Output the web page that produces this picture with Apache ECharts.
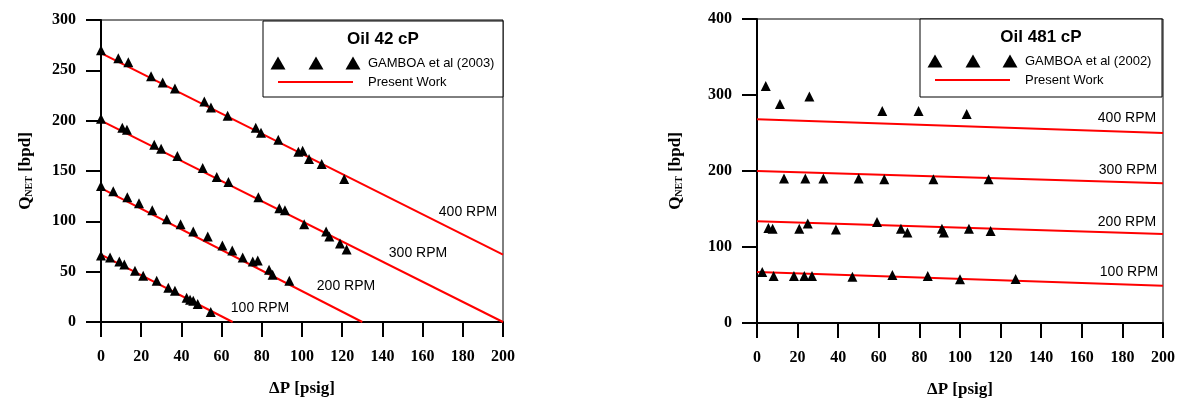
<!DOCTYPE html>
<html>
<head>
<meta charset="utf-8">
<title>Q_NET vs dP</title>
<script src="https://cdn.jsdelivr.net/npm/echarts@6/dist/echarts.min.js"></script>
<style>
  html, body { margin: 0; padding: 0; background: #fff; }
  #chart { width: 1179px; height: 406px; }
</style>
</head>
<body>
<div id="chart"></div>
<script>
// ---- data ----
// Oil 42 cP, GAMBOA et al (2003)
const gamboa42_400 = [[0,270],[8.6,262],[13.6,258],[24.9,244],[30.7,238],[36.8,232],[51.4,219],[54.7,213],[63,205],[77,193],[79.6,188],[88.2,181],[98.2,169],[100.3,170],[103.5,162],[109.8,157],[121,142]];
const gamboa42_300 = [[0,202],[10.6,193],[12.9,191],[26.5,176],[29.9,172],[38,165],[50.6,153],[57.6,144],[63.4,139],[78.3,124],[88.7,113],[91.5,111],[101.1,97],[112,90],[113.6,85],[118.9,78],[122.2,72]];
const gamboa42_200 = [[0,135],[6.1,130],[13.1,124],[18.9,118],[25.5,111],[32.7,102],[39.6,97],[45.9,90],[53.1,85],[60.4,76],[65.3,71],[70.5,64],[75.5,60],[78,61],[83.6,52],[85.4,47],[93.7,41]];
const gamboa42_100 = [[0,66],[4.5,64],[9.1,60],[11.6,57],[16.9,51],[21,46],[27.7,41],[33.5,34],[36.8,31],[42.6,24],[44.3,22],[45.9,21],[48.1,18],[54.6,10]];
// Oil 42 cP, present work
const model42_400 = [[0,267],[200,67]];
const model42_300 = [[0,200],[200,0]];
const model42_200 = [[0,133],[130,0]];
const model42_100 = [[0,67],[65.5,0]];

// Oil 481 cP, GAMBOA et al (2002)
const gamboa481_400 = [[4.3,312],[11.3,288],[25.8,298],[61.7,279],[79.6,279],[103.3,275]];
const gamboa481_300 = [[13.3,190],[23.8,190],[32.7,190],[50.1,190],[62.7,189],[86.9,189],[114.1,189]];
const gamboa481_200 = [[5.6,125],[7.7,124],[20.8,124],[25,131],[38.9,123],[59.1,133],[70.9,124],[74.1,119],[91.1,124],[92.1,119],[104.4,124],[115.1,121]];
const gamboa481_100 = [[2.6,67],[8.2,62],[18.2,62],[23.3,62],[27.1,62],[47,61],[66.7,63],[84.1,62],[100,57.5],[127.4,58]];
// Oil 481 cP, present work
const model481_400 = [[0,268],[200,250]];
const model481_300 = [[0,200],[200,184]];
const model481_200 = [[0,134],[200,117]];
const model481_100 = [[0,67],[200,49]];

const rpmLabels = ['400 RPM', '300 RPM', '200 RPM', '100 RPM'];
const xTicks = [0, 20, 40, 60, 80, 100, 120, 140, 160, 180, 200];

// ---- chart ----
const serif = '"Liberation Serif", "Times New Roman", serif';
const sans = '"Liberation Sans", Arial, sans-serif';

function xAxisOf(gridIndex) {
  return {
    gridIndex: gridIndex,
    type: 'value',
    min: xTicks[0],
    max: xTicks[xTicks.length - 1],
    interval: 20,
    name: 'ΔP [psig]',
    nameLocation: 'middle',
    nameGap: 58,
    nameTextStyle: { fontFamily: serif, fontWeight: 'bold', fontSize: 17, color: '#000' },
    axisLine: { onZero: false, lineStyle: { color: '#000', width: 2 } },
    axisTick: { length: 15, lineStyle: { color: '#000', width: 2 } },
    axisLabel: { margin: 27, fontFamily: serif, fontWeight: 'bold', fontSize: 16, color: '#000' },
    splitLine: { show: false }
  };
}

function yAxisOf(gridIndex, max, interval, gap) {
  return {
    gridIndex: gridIndex,
    type: 'value',
    min: 0,
    max: max,
    interval: interval,
    name: '{q|Q}{s|NET}{q| [bpd]}',
    nameLocation: 'middle',
    nameGap: gap,
    nameTextStyle: {
      rich: {
        q: { fontFamily: serif, fontWeight: 'bold', fontSize: 17, color: '#000' },
        s: { fontFamily: serif, fontWeight: 'bold', fontSize: 10, color: '#000', verticalAlign: 'bottom', padding: [6, 0, 0, 0] }
      }
    },
    axisLine: { onZero: false, lineStyle: { color: '#000', width: 2 } },
    axisTick: { length: 15, lineStyle: { color: '#000', width: 2 } },
    axisLabel: { margin: 25, fontFamily: serif, fontWeight: 'bold', fontSize: 16, color: '#000' },
    splitLine: { show: false }
  };
}

function pts(idx, data) {
  return {
    type: 'scatter', xAxisIndex: idx, yAxisIndex: idx, data: data,
    symbol: 'triangle', symbolSize: 10, itemStyle: { color: '#000', opacity: 1 }, z: 3
  };
}
function model(idx, data) {
  return {
    type: 'line', xAxisIndex: idx, yAxisIndex: idx, data: data,
    showSymbol: false, symbol: 'none', lineStyle: { color: '#ff0000', width: 2 }, z: 2
  };
}

// legend box drawn by hand: three triangles + red line sample
function legendBox(left, top, width, height, title, ref) {
  const cx = left + width / 2;
  const tx = left + 15, ty = top + 42, ly = top + 61;
  const tri = x => ({
    type: 'polygon',
    shape: { points: [[x - 7.5, ty + 6.5], [x + 7.5, ty + 6.5], [x, ty - 6.5]] },
    style: { fill: '#000' }
  });
  return [
    { type: 'rect', shape: { x: left, y: top, width: width, height: height }, style: { fill: '#fff', stroke: '#000', lineWidth: 1 }, z: 10 },
    { type: 'text', x: cx, y: top + 18, z: 11, style: { text: title, font: 'bold 17px ' + sans, fill: '#000', align: 'center', verticalAlign: 'middle' } },
    Object.assign(tri(tx), { z: 11 }),
    Object.assign(tri(tx + 38), { z: 11 }),
    Object.assign(tri(tx + 75), { z: 11 }),
    { type: 'text', x: tx + 90, y: ty, z: 11, style: { text: ref, font: '13px ' + sans, fill: '#000', verticalAlign: 'middle' } },
    { type: 'line', shape: { x1: tx, y1: ly, x2: tx + 75, y2: ly }, style: { stroke: '#ff0000', lineWidth: 2 }, z: 11 },
    { type: 'text', x: tx + 90, y: ly, z: 11, style: { text: 'Present Work', font: '13px ' + sans, fill: '#000', verticalAlign: 'middle' } }
  ];
}

function rpmText(x, y, text) {
  return { type: 'text', x: x, y: y, z: 5, style: { text: text, font: '14px ' + sans, fill: '#000', align: 'center', verticalAlign: 'middle' } };
}

const chart = echarts.init(document.getElementById('chart'), null, { renderer: 'canvas' });
chart.setOption({
  animation: false,
  backgroundColor: '#fff',
  grid: [
    { left: 101, top: 20, width: 402, height: 302, show: true, borderColor: '#000', borderWidth: 1 },
    { left: 757, top: 19, width: 406, height: 304, show: true, borderColor: '#000', borderWidth: 1 }
  ],
  xAxis: [xAxisOf(0), xAxisOf(1)],
  yAxis: [yAxisOf(0, 300, 50, 67), yAxisOf(1, 400, 100, 73)],
  series: [
    model(0, model42_400), model(0, model42_300), model(0, model42_200), model(0, model42_100),
    pts(0, gamboa42_400), pts(0, gamboa42_300), pts(0, gamboa42_200), pts(0, gamboa42_100),
    model(1, model481_400), model(1, model481_300), model(1, model481_200), model(1, model481_100),
    pts(1, gamboa481_400), pts(1, gamboa481_300), pts(1, gamboa481_200), pts(1, gamboa481_100)
  ],
  graphic: [].concat(
    legendBox(263, 21, 240, 76, 'Oil 42 cP', 'GAMBOA et al (2003)'),
    legendBox(920, 19, 242, 78, 'Oil 481 cP', 'GAMBOA et al (2002)'),
    [
      rpmText(468, 212, rpmLabels[0]), rpmText(418, 253, rpmLabels[1]),
      rpmText(346, 286, rpmLabels[2]), rpmText(260, 308, rpmLabels[3]),
      rpmText(1127, 118, rpmLabels[0]), rpmText(1128, 170, rpmLabels[1]),
      rpmText(1127, 222, rpmLabels[2]), rpmText(1129, 272, rpmLabels[3])
    ]
  )
});
</script>
</body>
</html>
